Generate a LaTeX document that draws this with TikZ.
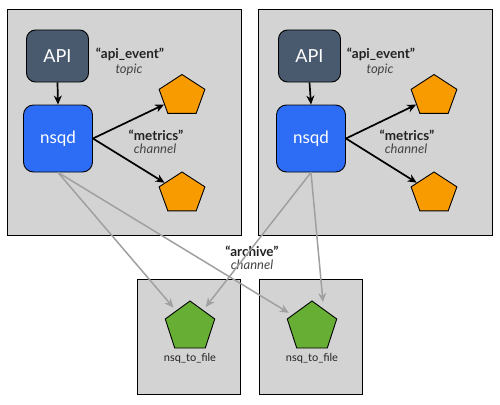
\documentclass[tikz,border=0pt]{standalone}
\usepackage{fontspec}
\setmainfont{Lato}
\usetikzlibrary{shapes.geometric,arrows.meta,calc}
\definecolor{panelgray}{HTML}{D3D3D3}
\definecolor{apicol}{HTML}{4A5A6E}
\definecolor{nsqdcol}{HTML}{2D6DF6}
\definecolor{orangecol}{HTML}{F89B00}
\definecolor{greencol}{HTML}{66AE34}
\definecolor{greyarrow}{HTML}{A0A0A0}
\definecolor{labeltext}{HTML}{222222}
\definecolor{subtext}{HTML}{444444}
\tikzset{
  panel/.style={draw=black, line width=0.9pt, fill=panelgray},
  apibox/.style={draw=black, line width=0.9pt, fill=apicol, rounded corners=9pt,
    minimum width=62pt, minimum height=52pt, text=white, font=\fontsize{18}{20}\selectfont, inner sep=0pt},
  nsqdbox/.style={draw=black, line width=0.9pt, fill=nsqdcol, rounded corners=10pt,
    minimum width=69pt, minimum height=67pt, text=white, font=\fontsize{17}{19}\selectfont, inner sep=0pt},
  pent/.style={regular polygon, regular polygon sides=5, draw=black, line width=0.9pt, inner sep=0pt},
  opent/.style={pent, fill=orangecol, minimum size=43pt, xscale=1.12, transform shape},
  gpent/.style={pent, fill=greencol, minimum size=52pt},
  lbl/.style={font=\fontsize{13.5}{15}\selectfont\bfseries, text=labeltext, inner sep=0pt},
  sublbl/.style={font=\fontsize{13}{15}\selectfont\itshape, text=subtext, inner sep=0pt},
  filelbl/.style={font=\fontsize{11}{13}\selectfont, text=labeltext, inner sep=0pt},
  blackarrow/.style={line width=1.7pt, -{Stealth[length=9pt,width=8pt]}},
  greyarr/.style={draw=greyarrow, line width=1.5pt, -{Stealth[length=9pt,width=8pt]}, shorten >=4pt}
}
\begin{document}
\begin{tikzpicture}[x=1pt,y=-1pt]
\useasboundingbox (0,0) rectangle (500,404);
% panels
\draw[panel] (7,9) rectangle (241,235);
\draw[panel] (258,9) rectangle (492,235);
\draw[panel] (137,279) rectangle (240,394);
\draw[panel] (259,279) rectangle (362,394);

% left cluster
\node[apibox] (api1) at (57.5,56) {API};
\node[nsqdbox] (nsqd1) at (58,138.5) {nsqd};
\node[opent] (o1a) at (182,96) {};
\node[opent] (o1b) at (182,193.5) {};
\node[lbl] (t1) at (130,54) {“api\_event”};
\node[sublbl] (t1s) at (129,70) {topic};
\node[lbl] (c1) at (156,135) {“metrics”};
\node[sublbl] (c1s) at (155,149) {channel};

% right cluster
\node[apibox] (api2) at (309.5,56) {API};
\node[nsqdbox] (nsqd2) at (311,138.5) {nsqd};
\node[opent] (o2a) at (434,96) {};
\node[opent] (o2b) at (434,193.5) {};
\node[lbl] (t2) at (381,54) {“api\_event”};
\node[sublbl] (t2s) at (380,70) {topic};
\node[lbl] (c2) at (407,135) {“metrics”};
\node[sublbl] (c2s) at (406,149) {channel};

% archive channel label
\node[lbl] (ar) at (252,251) {“archive”};
\node[sublbl] (ars) at (252,265) {channel};

% consumers
\node[gpent] (g1) at (190,327) {};
\node[gpent] (g2) at (312,327) {};
\node[filelbl] (f1) at (190,358) {nsq\_to\_file};
\node[filelbl] (f2) at (312,358) {nsq\_to\_file};

% black arrows
\draw[blackarrow] (api1.south) -- (nsqd1.north);
\draw[blackarrow] (nsqd1.east) -- (o1a);
\draw[blackarrow] (nsqd1.east) -- (o1b);
\draw[blackarrow] (api2.south) -- (nsqd2.north);
\draw[blackarrow] (nsqd2.east) -- (o2a);
\draw[blackarrow] (nsqd2.east) -- (o2b);

% grey archive arrows
\coordinate (g2in) at ($(g2)+(11,-25)$);
\draw[greyarr] (nsqd1.south) -- (g1);
\draw[greyarr] (nsqd1.south) -- (g2);
\draw[greyarr] (nsqd2.south) -- (g1);
\draw[greyarr, shorten >=0pt] (nsqd2.south) -- (g2in);
\end{tikzpicture}
\end{document}
